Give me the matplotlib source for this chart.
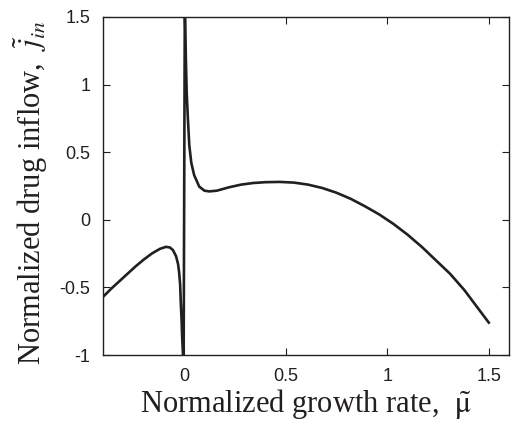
import matplotlib
matplotlib.use('Agg')
import matplotlib.pyplot as plt

# values (normalized growth rate vs normalized drug inflow)
mu_left = [-0.40, -0.36, -0.32, -0.28, -0.24, -0.20, -0.16, -0.12, -0.09, -0.07,
           -0.055, -0.04, -0.03, -0.025, -0.02, -0.017, -0.013, -0.01, -0.006, -0.003]
j_left = [-0.57, -0.51, -0.455, -0.40, -0.345, -0.295, -0.25, -0.215, -0.20, -0.205,
          -0.225, -0.27, -0.33, -0.39, -0.48, -0.61, -0.74, -0.87, -1.00, -1.10]

mu_right = [0.003, 0.008, 0.012, 0.017, 0.025, 0.035, 0.049, 0.074, 0.10, 0.123,
            0.16, 0.22, 0.28, 0.34, 0.40, 0.47, 0.54, 0.61, 0.68, 0.75, 0.82, 0.89,
            0.96, 1.03, 1.10, 1.17, 1.24, 1.31, 1.38, 1.44, 1.50]
j_right = [1.60, 1.20, 0.95, 0.78, 0.55, 0.42, 0.33, 0.245, 0.215, 0.21,
           0.215, 0.24, 0.26, 0.272, 0.278, 0.28, 0.275, 0.26, 0.235, 0.20, 0.155, 0.10,
           0.04, -0.03, -0.11, -0.20, -0.30, -0.40, -0.52, -0.64, -0.76]

xticks = [0, 0.5, 1, 1.5]
yticks = [-1, -0.5, 0, 0.5, 1, 1.5]

plt.rcParams['mathtext.fontset'] = 'stix'

fig = plt.figure(figsize=(5.14, 4.33), dpi=100)
ax = fig.add_axes([0.2004, 0.180, 0.790, 0.781])

# one continuous line, as the original jumps across the pole at zero
ax.plot(mu_left + mu_right, j_left + j_right, color='#231f20', lw=1.9,
        solid_joinstyle='round')

ax.set_xlim(-0.4, 1.6)
ax.set_ylim(-1, 1.5)
ax.set_xticks(xticks)
ax.set_xticklabels(['0', '0.5', '1', '1.5'])
ax.set_yticks(yticks)
ax.set_yticklabels(['-1', '-0.5', '0', '0.5', '1', '1.5'])
ax.tick_params(direction='in', length=5, width=0.8, top=True, right=True,
               labelsize=13, pad=9, colors='#231f20')
for lab in ax.get_xticklabels() + ax.get_yticklabels():
    lab.set_family('Liberation Sans')
for s in ax.spines.values():
    s.set_linewidth(1.0)
    s.set_color('#231f20')

ax.set_xlabel(r'Normalized growth rate,  $\tilde{\mathrm{\mu}}$',
              family='Liberation Serif', fontsize=22, color='#231f20', labelpad=2)
ax.set_ylabel(r'Normalized drug inflow,  $\tilde{j}_{in}$',
              family='Liberation Serif', fontsize=22, color='#231f20')
ax.yaxis.set_label_coords(-0.13, 0.48)

fig.savefig('out.png', dpi=100)
